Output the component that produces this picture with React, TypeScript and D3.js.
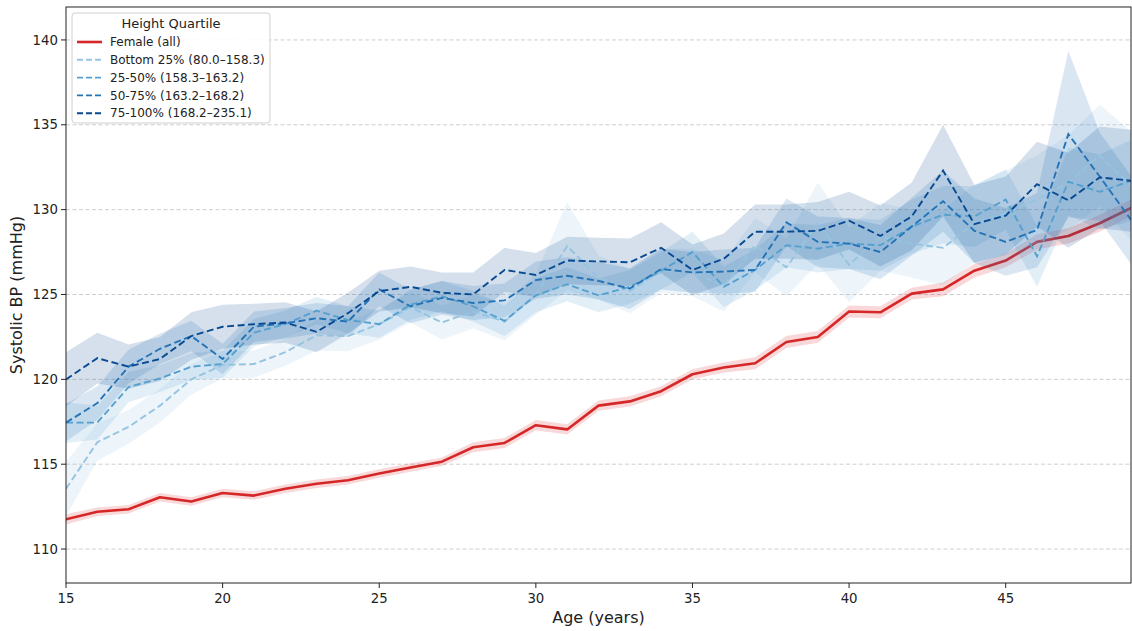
import React from "react";
import * as d3 from "d3";

const ages = [15,16,17,18,19,20,21,22,23,24,25,26,27,28,29,30,31,32,33,34,35,36,37,38,39,40,41,42,43,44,45,46,47,48,49];

const femaleAll = [111.75,112.2,112.35,113.05,112.8,113.3,113.15,113.55,113.85,114.05,114.45,114.8,115.15,116.0,116.25,117.3,117.05,118.45,118.7,119.3,120.3,120.7,120.95,122.2,122.5,124.0,123.95,125.05,125.3,126.4,127.0,128.1,128.45,129.2,130.1];
const femaleCI = [0.3,0.25,0.25,0.25,0.25,0.25,0.25,0.25,0.25,0.25,0.25,0.25,0.25,0.3,0.3,0.3,0.3,0.3,0.3,0.3,0.3,0.3,0.35,0.35,0.35,0.35,0.35,0.35,0.4,0.4,0.4,0.45,0.45,0.5,0.5];

const q1 = [113.55,116.3,117.2,118.45,120.0,120.85,120.9,121.6,122.6,122.55,123.25,124.25,123.35,124.0,123.4,125.0,127.85,126.0,125.2,126.4,126.3,125.5,127.9,126.6,129.2,126.75,128.4,128.0,127.75,129.2,129.8,130.6,131.6,133.2,131.4];
const q1CI = [1.6,1.1,1.0,1.0,0.9,0.8,0.8,0.8,0.9,0.9,0.9,0.9,1.0,1.0,1.1,1.2,2.6,1.3,1.3,1.3,1.4,1.5,1.6,1.7,2.4,2.2,2.0,2.0,2.2,2.3,2.5,2.6,2.8,3.0,3.2];

const q2 = [117.45,117.45,119.55,120.05,120.75,120.9,122.75,123.25,124.05,123.5,123.25,124.4,124.9,124.3,123.45,124.95,125.6,124.95,125.45,126.4,127.5,125.45,126.45,127.9,127.7,128.0,127.9,129.0,129.7,129.6,130.6,127.25,131.65,131.05,131.7];
const q2CI = [1.2,1.0,0.9,0.8,0.8,0.8,0.8,0.8,0.8,0.8,0.8,0.9,0.9,0.9,0.9,1.0,1.0,1.0,1.0,1.1,1.2,1.2,1.2,1.3,1.4,1.5,1.5,1.6,1.7,1.8,1.8,1.8,2.0,2.2,2.4];

const q3 = [117.45,118.6,120.75,121.8,122.55,121.2,123.1,123.3,123.6,123.4,125.3,124.3,124.8,124.5,124.65,125.85,126.1,125.8,125.35,126.5,126.3,126.35,126.45,129.25,128.1,128.0,127.5,129.0,130.5,128.75,128.1,128.8,134.45,131.95,129.4];
const q3CI = [1.1,1.0,1.0,0.9,0.9,0.9,0.9,0.9,0.9,0.9,1.0,1.0,1.0,1.0,1.0,1.1,1.1,1.1,1.2,1.2,1.2,1.3,1.3,1.4,1.5,1.5,1.6,1.7,1.8,1.9,2.0,2.2,4.9,2.6,2.6];

const q4 = [120.0,121.25,120.75,121.2,122.55,123.1,123.25,123.35,122.8,123.9,125.2,125.45,125.1,125.0,126.45,126.15,127.0,126.95,126.9,127.75,126.45,127.1,128.7,128.7,128.75,129.35,128.45,129.6,132.3,129.15,129.65,131.5,130.55,131.9,131.7];
const q4CI = [1.6,1.5,1.3,1.3,1.4,1.3,1.2,1.2,1.2,1.2,1.2,1.2,1.2,1.3,1.3,1.3,1.4,1.4,1.4,1.5,1.5,1.5,1.6,1.6,1.7,1.7,1.8,2.0,2.7,2.3,2.3,2.5,2.8,3.0,3.0];

const quartileLabels = ["Bottom 25% (80.0–158.3)", "25-50% (158.3–163.2)", "50-75% (163.2–168.2)", "75-100% (168.2–235.1)"];
const quartileColors = ["#94c4df", "#56a0ce", "#2373b6", "#084a91"];
const yTicks = [110, 115, 120, 125, 130, 135, 140];
const xTicks = [15, 20, 25, 30, 35, 40, 45];

const W = 1132, H = 631;
const L = 66, R = 1131, T = 7, B = 583;
const FONT = "DejaVu Sans, sans-serif";

export default function App() {
  const x = d3.scaleLinear().domain([15, 49]).range([L, R]);
  const y = d3.scaleLinear().domain([108, 141.94]).range([B, T]);

  const series = [
    { v: q1, ci: q1CI },
    { v: q2, ci: q2CI },
    { v: q3, ci: q3CI },
    { v: q4, ci: q4CI },
  ];

  const lineGen = (vals: number[]) =>
    d3.line<number>().x((_, i) => x(ages[i])).y((d) => y(d))(vals) || "";
  const areaGen = (vals: number[], ci: number[]) =>
    d3.area<number>()
      .x((_, i) => x(ages[i]))
      .y0((d, i) => y(d - ci[i]))
      .y1((d, i) => y(d + ci[i]))(vals) || "";

  const legendItems = [
    { label: "Female (all)", color: "#d62728", dash: "none" },
    ...quartileLabels.map((l, i) => ({ label: l, color: quartileColors[i], dash: "6,3" })),
  ];

  return (
    <svg width={W} height={H} style={{ position: "absolute", left: 0, top: 0, background: "#fff" }} fontFamily={FONT}>
      <defs>
        <clipPath id="plotclip">
          <rect x={L} y={T} width={R - L} height={B - T} />
        </clipPath>
      </defs>
      <rect x={0} y={0} width={W} height={H} fill="#fff" />
      {/* grid */}
      {yTicks.map((t) => (
        <line key={t} x1={L} x2={R} y1={y(t)} y2={y(t)} stroke="#c8c8c8" strokeWidth={0.9} strokeDasharray="4,2.5" />
      ))}
      <g clipPath="url(#plotclip)">
        <path d={areaGen(femaleAll, femaleCI)} fill="#d62728" fillOpacity={0.18} />
        <path d={lineGen(femaleAll)} fill="none" stroke="#d62728" strokeWidth={2.6} strokeLinejoin="round" />
        {series.map((s, i) => (
          <path key={"a" + i} d={areaGen(s.v, s.ci)} fill={quartileColors[i]} fillOpacity={0.17} />
        ))}
        {series.map((s, i) => (
          <path key={"l" + i} d={lineGen(s.v)} fill="none" stroke={quartileColors[i]} strokeWidth={1.9} strokeDasharray="7,3.5" />
        ))}
      </g>
      {/* spines */}
      <rect x={L} y={T} width={R - L} height={B - T} fill="none" stroke="#222" strokeWidth={1} />
      {/* y ticks */}
      {yTicks.map((t) => (
        <g key={"yt" + t}>
          <line x1={L - 5} x2={L} y1={y(t)} y2={y(t)} stroke="#222" strokeWidth={1} />
          <text x={L - 8} y={y(t)} dy="0.35em" textAnchor="end" fontSize={13.3} fill="#222">{t}</text>
        </g>
      ))}
      {xTicks.map((t) => (
        <g key={"xt" + t}>
          <line x1={x(t)} x2={x(t)} y1={B} y2={B + 5} stroke="#222" strokeWidth={1} />
          <text x={x(t)} y={B + 20} textAnchor="middle" fontSize={13.3} fill="#222">{t}</text>
        </g>
      ))}
      <text x={(L + R) / 2} y={623} textAnchor="middle" fontSize={16} fill="#222">Age (years)</text>
      <text transform={`translate(22, ${(T + B) / 2}) rotate(-90)`} textAnchor="middle" fontSize={16} fill="#222">Systolic BP (mmHg)</text>
      {/* legend */}
      <g>
        <rect x={72} y={13} width={198} height={110} rx={3} fill="#fff" fillOpacity={0.85} stroke="#d0d0d0" strokeWidth={1} />
        <text x={171} y={28} textAnchor="middle" fontSize={13} fill="#222">Height Quartile</text>
        {legendItems.map((it, i) => {
          const yy = 42 + i * 17.8;
          return (
            <g key={"lg" + i}>
              <line x1={77} x2={102} y1={yy} y2={yy} stroke={it.color} strokeWidth={it.dash === "none" ? 2.6 : 1.9} strokeDasharray={it.dash === "none" ? undefined : it.dash} />
              <text x={110} y={yy} dy="0.35em" fontSize={12} fill="#222">{it.label}</text>
            </g>
          );
        })}
      </g>
    </svg>
  );
}
